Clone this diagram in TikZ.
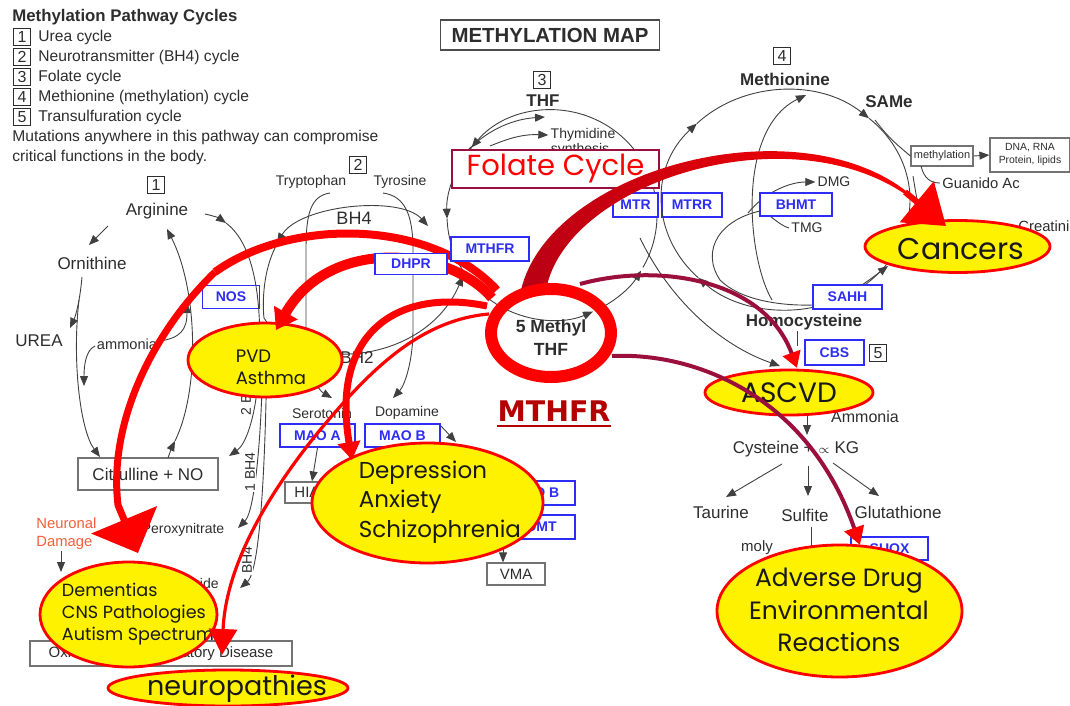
\documentclass[tikz,border=0pt]{standalone}
\usepackage{fontspec}
\setmainfont{Liberation Sans}
\newfontfamily\gothic{Poppins}
\newfontfamily\verd{DejaVu Sans}
\usetikzlibrary{arrows.meta,shapes.geometric}

\definecolor{enzblue}{RGB}{45,45,245}
\definecolor{txtgray}{RGB}{45,45,45}
\definecolor{plum}{RGB}{155,15,60}
\definecolor{deepred}{RGB}{185,0,20}
\definecolor{mthfrred}{RGB}{180,0,0}
\definecolor{dmgorange}{RGB}{240,95,60}

\tikzset{
  lbl/.style={text=txtgray, inner sep=1pt, font=\fontsize{8.5}{9}\selectfont},
  sml/.style={text=txtgray, inner sep=1pt, font=\fontsize{7}{7.5}\selectfont},
  bld/.style={text=txtgray, inner sep=1pt, align=center, font=\bfseries\fontsize{8.5}{9.5}\selectfont},
  enz/.style={draw=enzblue, line width=0.8pt, fill=white, text=enzblue, inner sep=0pt,
    font=\bfseries\fontsize{7}{7}\selectfont, minimum height=12pt},
  gbox/.style={draw=black!55, line width=0.6pt, fill=white, text=txtgray, inner sep=0pt,
    font=\fontsize{7.5}{8}\selectfont},
  num/.style={draw=txtgray, line width=0.5pt, inner sep=0pt, minimum size=8.5pt,
    text=txtgray, font=\fontsize{8}{8}\selectfont},
  cyc/.style={draw=black!75, line width=0.45pt},
  tip/.style={-{Triangle[length=5pt,width=4pt]}},
  ill/.style={ellipse, draw=red, line width=1.4pt, fill=yellow, inner sep=0pt},
  illtxt/.style={text=black!90, inner sep=0pt, align=center, font=\gothic},
}

\begin{document}
\begin{tikzpicture}[x=0.5pt,y=0.5pt]
\useasboundingbox (0,0) rectangle (1070,-706);

% legend
\node[anchor=west, text=txtgray, inner sep=0pt, font=\bfseries\fontsize{8.4}{9}\selectfont] (legtitle) at (12,-17) {Methylation Pathway Cycles};
\foreach \n/\lab in {1/Urea cycle, 2/Neurotransmitter (BH4) cycle, 3/Folate cycle, 4/Methionine (methylation) cycle, 5/Transulfuration cycle}{
  \node[num] (leg\n) at (22,-17-20*\n) {\n};
  \node[anchor=west, text=txtgray, inner sep=0pt, font=\fontsize{7.8}{8}\selectfont] at (38,-17-20*\n) {\lab};
}
\node[anchor=west, text=txtgray, inner sep=0pt, align=left, font=\fontsize{7.8}{10}\selectfont] (legnote) at (12,-147) {Mutations anywhere in this pathway can compromise\\critical functions in the body.};
\node[draw=black!70, line width=0.8pt, text=txtgray, inner sep=0pt, minimum width=109.5pt, minimum height=15pt,
  font=\bfseries\fontsize{10.2}{11}\selectfont] (title) at (550,-35) {METHYLATION MAP};

% 1 urea cycle
\node[num] (n1) at (156,-185) {1};
\node[lbl] (arg) at (157,-211) {Arginine};
\node[lbl] (orn) at (92,-263) {Ornithine};
\node[lbl] (urea) at (39,-341) {UREA};
\node[sml, font=\fontsize{7.3}{8}\selectfont] (amm) at (127,-344) {ammonia};
\node[enz, minimum width=28.5pt, minimum height=11.5pt] (nos) at (231,-297) {NOS};
\node[gbox, minimum width=70pt, minimum height=16pt, font=\fontsize{8.5}{9}\selectfont] (citr) at (148,-474) {Citrulline + NO};
\node[anchor=west, text=dmgorange, inner sep=0pt, align=left, font=\fontsize{7.4}{9}\selectfont] (dmg) at (36,-534) {Neuronal\\Damage};
\node[sml] (perox) at (183,-530) {Peroxynitrate};
\node[sml, anchor=east] (superox) at (221,-585) {Superoxide};
\node[gbox, minimum width=131pt, minimum height=12.5pt] (oxid) at (161,-653.5) {Oxidative + Inflammatory Disease};

\draw[cyc,tip] (108,-226) -- (89,-245);
\draw[cyc,tip] (82,-277) .. controls (80,-300) and (76,-315) .. (70,-328);
\draw[cyc,tip] (79,-300) .. controls (72,-360) and (80,-430) .. (100,-457);
\draw[cyc,tip] (95,-346) .. controls (86,-350) and (84,-365) .. (84,-386);
\draw[cyc,tip] (160,-341) .. controls (180,-338) and (187,-330) .. (187,-303);
\draw[cyc,tip] (168,-458) .. controls (170,-452) and (172,-447) .. (175,-441);
\draw[cyc,tip] (175,-441) .. controls (200,-390) and (198,-290) .. (167,-229);
\draw[cyc,tip] (205,-214) .. controls (214,-216) and (219,-218) .. (226,-223);
\draw[cyc,tip] (226,-223) .. controls (262,-250) and (262,-330) .. (258,-380) .. controls (255,-420) and (245,-445) .. (229,-456);
\draw[cyc,tip] (263,-330) .. controls (263,-420) and (256,-510) .. (238,-528);
\draw[cyc,tip] (267,-340) .. controls (266,-450) and (261,-570) .. (240,-588);
\draw[cyc,tip] (61,-551) -- (61,-572);
\node[sml, rotate=90, fill=white, inner sep=0.5pt] (cof2) at (246,-396) {2 BH4};
\node[sml, rotate=90, fill=white, inner sep=0.5pt] (cof1) at (250,-472) {1 BH4};
\node[sml, rotate=90, fill=white, inner sep=0.5pt] (cof3) at (247,-560) {BH4};

% 2 neurotransmitter cycle
\node[num] (n2) at (358,-165) {2};
\node[sml] (trp) at (311,-182) {Tryptophan};
\node[sml] (tyr) at (400,-182) {Tyrosine};
\node[lbl, font=\fontsize{9}{9}\selectfont] (bh4) at (354,-218) {BH4};
\draw[cyc,tip] (330,-193) .. controls (310,-196) and (306,-215) .. (306,-250) -- (306,-340) .. controls (306,-370) and (318,-390) .. (332,-398);
\draw[cyc,tip] (383,-193) .. controls (405,-196) and (413,-215) .. (413,-250) -- (413,-330) .. controls (413,-360) and (405,-385) .. (393,-398);
\draw[cyc,{Triangle[length=5pt,width=4pt]}-{Triangle[length=5pt,width=4pt]}] (277,-243) .. controls (300,-205) and (400,-195) .. (428,-226);
\draw[cyc] (275,-248) .. controls (264,-270) and (262,-300) .. (264,-318);
\draw[cyc,tip] (264,-318) .. controls (300,-375) and (425,-365) .. (463,-276);
\node[lbl] (bh2) at (357,-358) {BH2};
\node[sml] (sero) at (322,-413) {Serotonin};
\node[sml] (dopa) at (407,-413) {Dopamine};
\node[enz, minimum width=37.5pt, minimum height=11.5pt] (maoa) at (317.5,-435.5) {MAO A};
\node[enz, minimum width=37.5pt, minimum height=11.5pt] (maob) at (402.5,-435.5) {MAO B};
\node[gbox, minimum width=27pt, minimum height=10.5pt] (hiaa) at (312,-492.5) {HIAA};
\node[enz, minimum width=39pt] (maob2) at (536,-493) {MAO B};
\node[enz, minimum width=39pt] (comt) at (536,-527) {COMT};
\node[gbox, minimum width=29pt, minimum height=11pt] (vma) at (516,-574) {VMA};
\draw[cyc,tip] (maoa.south) -- (hiaa.north);
\draw[cyc,tip] (441,-426) -- (456,-442);
\draw[cyc,tip] (503,-540) -- (vma.north -| 503,0);

% 3 folate cycle
\node[num] (n3) at (542,-80) {3};
\node[bld] (thf) at (543,-101) {THF};
\node[sml] (thym) at (583,-135) {Thymidine};
\node[sml] (synth) at (580,-150) {synthesis};
\draw[cyc,tip] (552,-215) ++(330:105) arc[start angle=330, end angle=500, radius=105];
\draw[cyc,tip] (552,-215) ++(140:105) arc[start angle=140, end angle=182, radius=105];
\draw[cyc,tip] (552,-215) ++(182:105) arc[start angle=182, end angle=293, radius=105];
\draw[cyc,tip] (552,-215) ++(296:105) arc[start angle=296, end angle=328, radius=105];
\draw[cyc,tip] (468,-150) .. controls (490,-128) and (515,-119) .. (545,-117);
\draw[cyc,tip] (490,-146) .. controls (505,-140) and (520,-134) .. (thym.west);
\node[draw=plum, line width=0.7pt, fill=white, text=red, inner sep=0pt, minimum width=103.5pt, minimum height=19pt,
  font=\gothic\fontsize{14.5}{15}\selectfont] (folate) at (555.5,-169) {Folate Cycle};
\node[enz, minimum width=22.5pt] (mtr) at (635.5,-205) {MTR};
\node[enz, minimum width=30pt] (mtrr) at (692,-205) {MTRR};
\node[bld, font=\bfseries\fontsize{8.8}{11.5}\selectfont] (mthf) at (551,-338) {5 Methyl\\THF};
\node[text=mthfrred, inner sep=0pt, font=\verd\bfseries\fontsize{14.2}{15}\selectfont] (mthfrlbl) at (554,-411) {MTHFR};
\draw[mthfrred, line width=1.2pt] ([yshift=-2pt]mthfrlbl.south west) -- ([yshift=-2pt]mthfrlbl.south east);

% 4 methionine cycle
\node[num] (n4) at (782,-56) {4};
\node[bld] (met) at (785,-79) {Methionine};
\node[bld] (same) at (889,-102) {SAMe};
\draw[cyc,tip] (786,-200) ++(225:124 and 110) arc[start angle=225, end angle=136, x radius=124, y radius=110];
\draw[cyc,tip] (786,-200) ++(136:124 and 110) arc[start angle=136, end angle=48, x radius=124, y radius=110];
\draw[cyc] (786,-200) ++(48:124 and 110) arc[start angle=48, end angle=-58, x radius=124, y radius=110];
\draw[cyc,tip] (786,-200) ++(-68:124 and 110) arc[start angle=-68, end angle=-135, x radius=124, y radius=110];
\draw[cyc,tip] (772,-300) .. controls (748,-260) and (735,-130) .. (806,-95);
\draw[cyc] (765,-210) .. controls (720,-218) and (700,-250) .. (720,-280) .. controls (740,-300) and (780,-306) .. (813,-305);
\draw[cyc,tip] (640,-238) .. controls (670,-300) and (720,-345) .. (780,-366);
\node[sml] (dmg2) at (834,-182) {DMG};
\node[sml] (tmg) at (807,-228) {TMG};
\draw[cyc,tip] (748,-213) .. controls (765,-192) and (790,-182) .. (dmg2.west);
\draw[cyc] (765,-212) .. controls (775,-220) and (782,-226) .. (tmg.west);
\node[enz, minimum width=36pt, minimum height=11.5pt] (bhmt) at (796,-204.5) {BHMT};
\node[gbox, minimum width=31pt, minimum height=10pt, font=\fontsize{5.5}{6}\selectfont] (meth) at (942,-156) {methylation};
\node[gbox, minimum width=40pt, minimum height=17pt, align=center, font=\fontsize{5.2}{6.5}\selectfont] (dna) at (1030,-155) {DNA, RNA\\Protein, lipids};
\draw[cyc] (875,-120) .. controls (890,-140) and (900,-147) .. (meth.west);
\draw[cyc,tip] (meth.east) -- (dna.west);
\node[sml, font=\fontsize{7.4}{8}\selectfont] (gac) at (981,-183) {Guanido Ac};
\draw[cyc] (921,-166) .. controls (924,-178) and (930,-183) .. (gac.west);
\draw[cyc,tip] (913,-176) .. controls (916,-195) and (918,-205) .. (922,-216);
\node[sml, anchor=west, font=\fontsize{7.4}{8}\selectfont] (creat) at (1016,-226) {Creatinine};
\node[enz, minimum width=34.5pt] (sahh) at (847.5,-297) {SAHH};
\draw[cyc,tip] (862,-285) .. controls (872,-278) and (880,-272) .. (888,-266);
\node[bld] (hcy) at (804,-322) {Homocysteine};

% 5 transsulfuration
\node[enz, minimum width=29.5pt, minimum height=12.5pt] (cbs) at (834.5,-352.5) {CBS};
\node[num] (n5) at (878,-353) {5};
\draw[cyc] (797,-331) -- (797,-346);
\node[lbl, font=\fontsize{8}{8}\selectfont] (ammo) at (865,-417) {Ammonia};
\draw[cyc,tip] (807,-412) -- (807,-435);
\node[lbl] (cyst) at (796,-449) {Cysteine + {\fontsize{6}{6}\selectfont$\propto$} KG};
\node[lbl] (taur) at (721,-512) {Taurine};
\node[lbl] (sulf) at (805,-515) {Sulfite};
\node[lbl] (glut) at (898,-512) {Glutathione};
\node[sml, font=\fontsize{7.5}{8}\selectfont] (moly) at (757,-548) {moly};
\draw[cyc,tip] (782,-464) -- (726,-497);
\draw[cyc,tip] (808,-466) -- (808,-496);
\draw[cyc,tip] (833,-463) -- (879,-496);
\draw[cyc] (811,-527) -- (811,-556);
\node[enz, minimum width=38.5pt, minimum height=11.5pt] (suox) at (889.5,-548.5) {SUOX};

% disease ellipses
\node[ill, minimum width=92.5pt, minimum height=26pt] (cancer) at (957.5,-246.5) {};
\node[illtxt, font=\gothic\fontsize{15}{16}\selectfont] at (961,-249) {Cancers};
\node[ill, minimum width=84pt, minimum height=22.5pt] (ascvd) at (789,-392.5) {};
\node[illtxt, font=\gothic\fontsize{14}{15}\selectfont] at (789,-393) {ASCVD};
\node[ill, minimum width=77pt, minimum height=37pt] (pvd) at (265,-360) {};
\node[illtxt, align=left, font=\gothic\fontsize{9}{11}\selectfont] at (271,-367) {PVD\\Asthma};
\node[ill, minimum width=115.5pt, minimum height=60pt] (depr) at (427.5,-503) {};
\node[illtxt, align=left, font=\gothic\fontsize{11.5}{14.7}\selectfont] at (440,-502) {Depression\\Anxiety\\Schizophrenia};
\node[ill, minimum width=88.5pt, minimum height=52.5pt] (dem) at (128.5,-614.5) {};
\node[illtxt, align=left, font=\gothic\fontsize{8.8}{10.8}\selectfont] at (138,-614) {Dementias\\CNS Pathologies\\Autism Spectrum};
\node[ill, minimum width=120pt, minimum height=18pt] (neuro) at (228,-688) {};
\node[illtxt, font=\gothic\fontsize{13.5}{14}\selectfont] at (237,-689) {neuropathies};
\node[ill, minimum width=122.5pt, minimum height=66pt] (adr) at (839.5,-611) {};
\node[illtxt, font=\gothic\fontsize{12.5}{16.2}\selectfont] at (839,-610) {Adverse Drug\\Environmental\\Reactions};

% red arrows out of 5 methyl THF
\draw[red, line width=4pt] (497,-290) .. controls (430,-218) and (290,-218) .. (215,-272);
\draw[red, line width=3.5pt, -{Triangle[length=18pt,width=35pt]}] (215,-272) .. controls (155,-330) and (108,-420) .. (118,-505) -- (138,-553);
\draw[red, line width=5pt, -{Triangle[length=10pt,width=13pt]}] (492,-298) .. controls (450,-248) and (330,-235) .. (276,-330);
\draw[red, line width=3.5pt, -{Triangle[length=9pt,width=11pt]}] (487,-306) .. controls (400,-288) and (330,-330) .. (352,-460);
\draw[red, line width=1.6pt, -{Triangle[length=13pt,width=14pt]}] (489,-314) .. controls (420,-320) and (370,-370) .. (320,-430) .. controls (275,-485) and (226,-560) .. (222,-655);
\shade[left color=deepred, right color=red] (521,-290) .. controls (550,-168) and (800,-102) .. (911,-195)
  -- (917,-203) .. controls (800,-108) and (566,-180) .. (546,-290) -- cycle;
\draw[red, line width=3pt, -{Triangle[length=19pt,width=26pt]}] (905,-192) -- (946,-226);
\draw[plum, line width=2pt, -{Triangle[length=8pt,width=9pt,color=red]}] (580,-284) .. controls (660,-262) and (765,-280) .. (797,-368);
\draw[plum, line width=2pt, -{Triangle[length=9pt,width=10pt,color=red]}] (612,-356) .. controls (700,-352) and (810,-400) .. (860,-545);
\draw[red, line width=6pt] (551,-333) ellipse [x radius=60, y radius=44];

% enzymes that sit over the arrows
\node[enz, minimum width=36pt, minimum height=10.5pt] (dhpr) at (411,-264) {DHPR};
\node[enz, minimum width=39pt] (mthfr) at (490,-249) {MTHFR};
\end{tikzpicture}
\end{document}
